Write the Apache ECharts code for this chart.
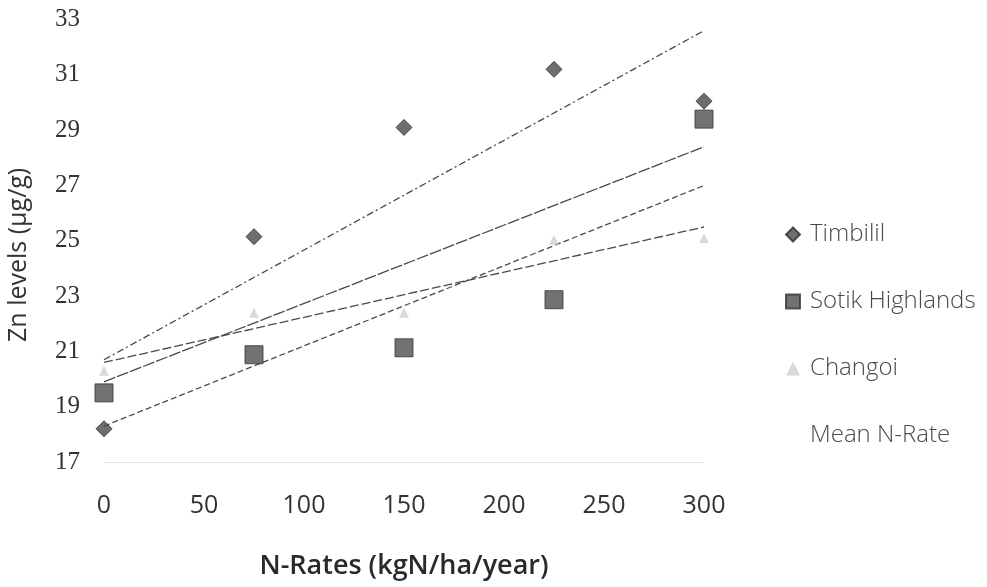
<!DOCTYPE html>
<html>
<head>
<meta charset="utf-8">
<script src="https://cdn.jsdelivr.net/npm/echarts@6/dist/echarts.min.js"></script>
<style>
html,body{margin:0;padding:0;background:#fff;}
#chart{width:987px;height:587px;}
</style>
</head>
<body>
<div id="chart"></div>
<script>
// N rates (x values)
var nRates = [0, 75, 150, 225, 300];
// Zn levels
var timbilil = [18.2, 25.15, 29.1, 31.2, 30.05];
var sotik = [19.5, 20.88, 21.13, 22.87, 29.4];
var changoi = [20.3, 22.4, 22.4, 25.04, 25.1];
// linear trend lines: values at x = 0 and x = 300
var trendX = [0, 300];
var trendTimbilil = [20.7, 32.6];
var trendMean = [19.9, 28.4];
var trendSotik = [18.3, 27.0];
var trendChangoi = [20.6, 25.5];
// axis ticks
var xTicks = [0, 50, 100, 150, 200, 250, 300];
var yTicks = [17, 19, 21, 23, 25, 27, 29, 31, 33];

function pairs(xs, ys){ return xs.map(function(x,i){ return [x, ys[i]]; }); }

var chart = echarts.init(document.getElementById('chart'));
var trendStyle = function(type){ return {color:'#4a4a4a', width:1.3, type:type}; };

chart.setOption({
  backgroundColor:'#ffffff',
  animation:false,
  grid:{left:104, right:283, top:19.6, bottom:125, containLabel:false},
  xAxis:{
    type:'value', min:xTicks[0], max:xTicks[xTicks.length-1], interval:50,
    name:'N-Rates (kgN/ha/year)', nameLocation:'middle', nameGap:91,
    nameTextStyle:{fontFamily:'Open Sans', fontSize:27, color:'#2a2a2a', fontWeight:600},
    axisLine:{show:true, lineStyle:{color:'#e2e2e2', type:'dotted', width:1}},
    axisTick:{show:false},
    splitLine:{show:false},
    axisLabel:{margin:31, fontFamily:'Open Sans', fontSize:25, color:'#333'}
  },
  yAxis:{
    type:'value', min:yTicks[0], max:yTicks[yTicks.length-1], interval:2,
    axisLine:{show:false}, axisTick:{show:false}, splitLine:{show:false},
    axisLabel:{margin:24, fontFamily:'Liberation Serif', fontSize:25, color:'#333'}
  },
  graphic:[{
    type:'text', rotation:Math.PI/2, x:6, y:342,
    style:{text:'Zn levels (µg/g)', font:'25px "Open Sans"', fill:'#333'}
  }],
  legend:{
    orient:'vertical', left:780, top:216, itemGap:40,
    itemWidth:14, itemHeight:14,
    textStyle:{fontFamily:'Open Sans', fontWeight:300, fontSize:24, color:'#4a4a4a', lineHeight:27, padding:[0,0,0,5]},
    data:[
      {name:'Timbilil', icon:'diamond'},
      {name:'Sotik Highlands', icon:'rect'},
      {name:'Changoi', icon:'triangle'},
      {name:'Mean N-Rate', icon:'none'}
    ]
  },
  series:[
    {name:'Timbilil trend', type:'line', data:pairs(trendX, trendTimbilil), symbol:'none', lineStyle:trendStyle([7,3,2,3]), z:1},
    {name:'Mean N-Rate', type:'line', data:pairs(trendX, trendMean), symbol:'none', lineStyle:trendStyle([12,2]), itemStyle:{color:'#4a4a4a'}, z:1},
    {name:'Sotik trend', type:'line', data:pairs(trendX, trendSotik), symbol:'none', lineStyle:trendStyle([6,3]), z:1},
    {name:'Changoi trend', type:'line', data:pairs(trendX, trendChangoi), symbol:'none', lineStyle:trendStyle([9,3]), z:1},
    {name:'Changoi', type:'scatter', data:pairs(nRates, changoi), symbol:'triangle', symbolSize:10, itemStyle:{color:'#cfcfcf'}, z:2},
    {name:'Sotik Highlands', type:'scatter', data:pairs(nRates, sotik), symbol:'rect', symbolSize:18, itemStyle:{color:'#4f4f4f', borderColor:'#333', borderWidth:1}, z:3},
    {name:'Timbilil', type:'scatter', data:pairs(nRates, timbilil), symbol:'diamond', symbolSize:16, itemStyle:{color:'#4a4a4a', borderColor:'#2e2e2e', borderWidth:1}, z:4}
  ]
});
</script>
</body>
</html>
